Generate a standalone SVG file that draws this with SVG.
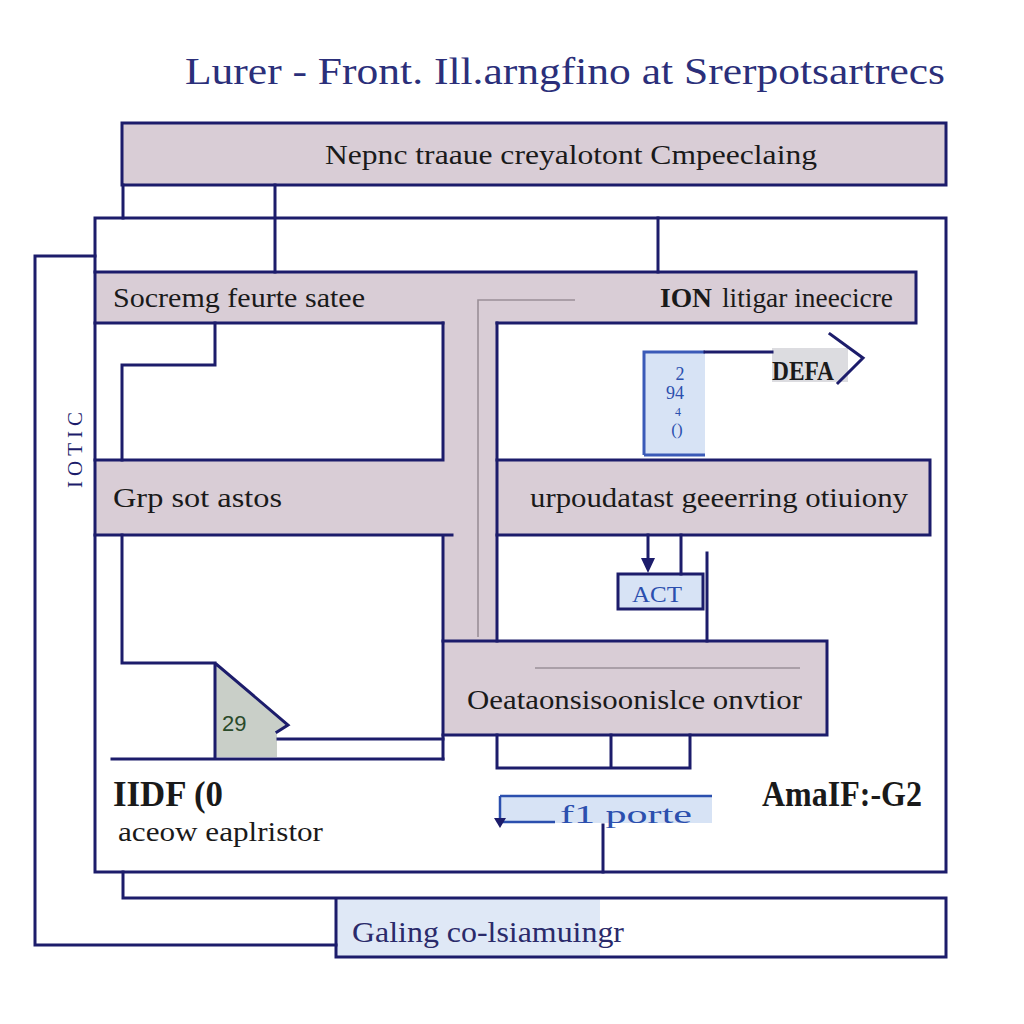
<svg xmlns="http://www.w3.org/2000/svg" width="1024" height="1024" viewBox="0 0 1024 1024">
<style>
.ln{stroke:#1c1c6b;stroke-width:3;fill:none;stroke-linecap:square}
.thin{stroke:#9a8f98;stroke-width:1.6;fill:none}
.mv{fill:#d9cdd6}
.lb{fill:#d7e3f5}
.t{font-family:"Liberation Serif","DejaVu Serif",serif;fill:#1a1a1a}
.b{font-weight:bold}
.blue{fill:#2b4fae}
</style>
<rect width="1024" height="1024" fill="#ffffff"/>
<text class="t" x="185" y="84" font-size="38" style="fill:#2b2f7a" textLength="760" lengthAdjust="spacingAndGlyphs">Lurer  - Front. Ill.arngfino  at Srerpotsartrecs</text>

<g id="top-box">
<rect x="122" y="123" width="824" height="62" class="mv"/>
<rect x="122" y="123" width="824" height="62" class="ln"/>
<text class="t" x="325" y="164" font-size="28" textLength="492" lengthAdjust="spacingAndGlyphs">Nepnc traaue creyalotont Cmpeeclaing</text>
</g>

<g id="bands">
<rect x="95" y="272" width="821" height="51" class="mv"/>
<rect x="443" y="323" width="54" height="318" class="mv"/>
<rect x="95" y="460" width="402" height="75" class="mv"/>
<rect x="497" y="460" width="433" height="75" class="mv"/>
<rect x="443" y="641" width="384" height="94" class="mv"/>
</g>

<g id="lightboxes">
<rect x="644" y="352" width="61" height="103" class="lb"/>
<rect x="772" y="348" width="76" height="34" fill="#dcdce0"/>
<rect x="618" y="574" width="85" height="35" class="lb"/>
<rect x="500" y="796" width="212" height="27" class="lb"/>
<rect x="336" y="898" width="264" height="59" fill="#dfe8f6"/>
<polygon points="215,663 288,725 277,732 277,757 215,757" fill="#c9cfc8"/>
</g>

<g id="connectors">
<path class="ln" d="M95,218 H946 V872 H95 Z"/>
<path class="ln" d="M123,185 V218 M275,185 V272 M658,218 V272"/>
<path class="ln" d="M95,256 H35 V945 H336"/>
<path class="ln" d="M123,872 V898 H946 V957 H336 V898"/>
<path class="ln" d="M95,272 H916 V323 H497 M443,323 H95"/>
<path class="ln" d="M215,323 V365 H122 V460"/>
<path class="ln" d="M443,323 V460 H95 M95,535 H452 M443,535 V759"/>
<path class="ln" d="M497,323 V641"/>
<path class="ln" d="M497,460 H930 V535 H497"/>
<path class="ln" d="M443,641 H827 V735 H443"/>
<path class="ln" d="M497,735 V768 H690 V735 M611,735 V768"/>
<path class="ln" d="M122,535 V663 H215 L288,725 L277,732 M215,663 V759 M278,739 H443 M112,759 H443"/>
<path class="thin" d="M478,637 V300 H575"/>
<path class="thin" d="M535,668 H800"/>
<path d="M644,455 V352 H705 M644,455 H705" stroke="#3a5ab8" stroke-width="3" fill="none"/>
<path class="ln" d="M705,352 H772"/>
<path class="ln" d="M830,334 L863,358 L838,383"/>
<path class="ln" d="M648,535 V562"/>
<polygon points="641,558 655,558 648,573" fill="#1c1c6b"/>
<path class="ln" d="M681,535 V574 M707,553 V641"/>
<path class="ln" d="M618,574 H703 V609 H618 Z"/>
<path d="M500,796 H712" stroke="#2b4fae" stroke-width="2.5" fill="none"/>
<path d="M500,796 V822 H555" stroke="#2b4fae" stroke-width="2.5" fill="none"/>
<polygon points="494,818 506,818 500,828" fill="#1c1c6b"/>
<path class="ln" d="M603,825 V872"/>
</g>

<g id="labels">
<text class="t" x="113" y="307" font-size="27" textLength="252" lengthAdjust="spacingAndGlyphs">Socremg feurte satee</text>
<text class="t b" x="660" y="307" font-size="27" textLength="52" lengthAdjust="spacingAndGlyphs">ION</text>
<text class="t" x="722" y="307" font-size="27" textLength="171" lengthAdjust="spacingAndGlyphs">litigar ineecicre</text>
<text class="t" x="113" y="507" font-size="28" textLength="169" lengthAdjust="spacingAndGlyphs">Grp sot astos</text>
<text class="t" x="530" y="507" font-size="28" textLength="378" lengthAdjust="spacingAndGlyphs">urpoudatast geeerring otiuiony</text>
<text class="t" x="467" y="709" font-size="28" textLength="335" lengthAdjust="spacingAndGlyphs">Oeataonsisoonislce onvtior</text>
<text class="t b" x="772" y="380" font-size="28" textLength="62" lengthAdjust="spacingAndGlyphs">DEFA</text>
<text class="t blue" x="680" y="380" font-size="18" text-anchor="middle">2</text>
<text class="t blue" x="675" y="399" font-size="18" text-anchor="middle">94</text>
<text class="t blue" x="678" y="416" font-size="12" text-anchor="middle">4</text>
<text class="t blue" x="677" y="435" font-size="17" text-anchor="middle">()</text>
<text class="t blue" x="632" y="602" font-size="24" textLength="50" lengthAdjust="spacingAndGlyphs">ACT</text>
<text x="222" y="731" font-size="22" fill="#2a4a2a" font-family="Liberation Sans,sans-serif">29</text>
<text class="t" x="82" y="450" font-size="21" text-anchor="middle" transform="rotate(-90 82 450)" style="fill:#1c1c6b" textLength="76" lengthAdjust="spacing">IOTIC</text>
<text class="t b" x="113" y="806" font-size="36" textLength="110" lengthAdjust="spacingAndGlyphs">IIDF (0</text>
<text class="t" x="118" y="841" font-size="27" textLength="205" lengthAdjust="spacingAndGlyphs">aceow eaplristor</text>
<text class="t b" x="762" y="806" font-size="36" textLength="160" lengthAdjust="spacingAndGlyphs">AmaIF:-G2</text>
<text class="t blue" x="560" y="823" font-size="25" textLength="132" lengthAdjust="spacingAndGlyphs">f1 porte</text>
<text class="t" x="352" y="942" font-size="30" style="fill:#2a2a6a" textLength="272" lengthAdjust="spacingAndGlyphs">Galing co-lsiamuingr</text>
</g>
</svg>
